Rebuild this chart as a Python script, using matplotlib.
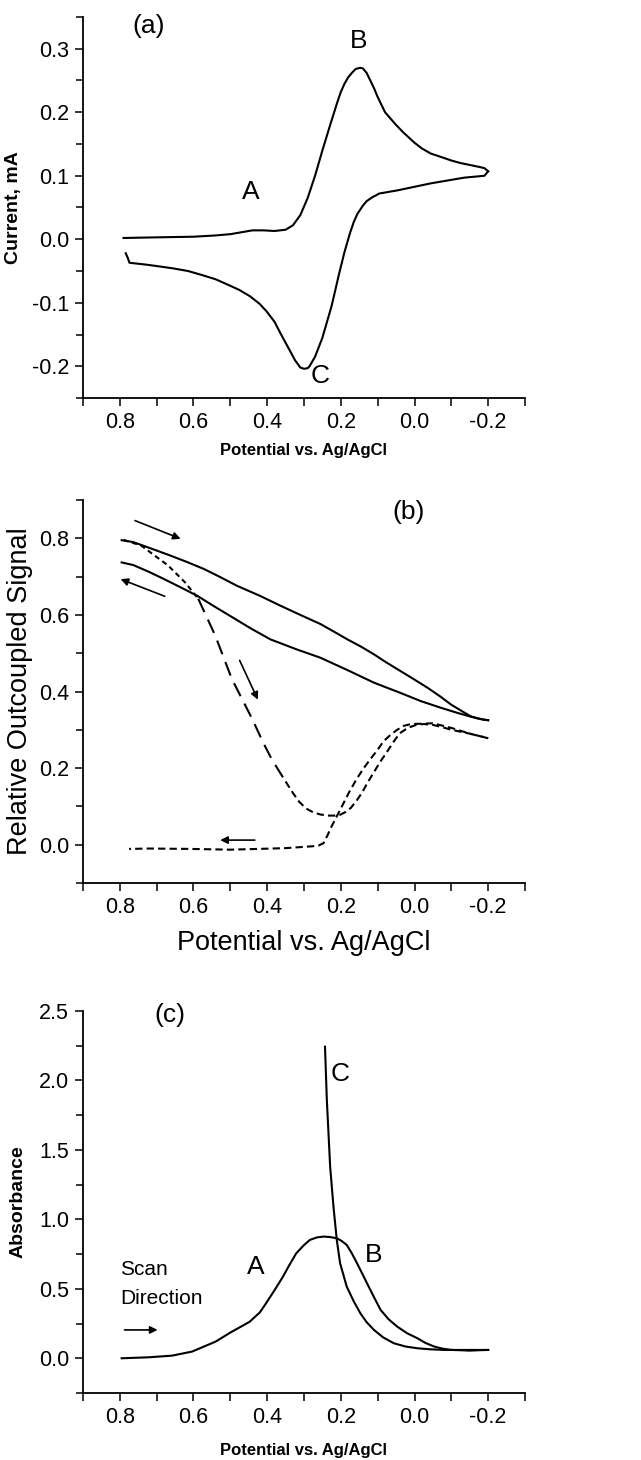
import matplotlib
matplotlib.use('Agg')
import matplotlib.pyplot as plt
from matplotlib.ticker import MultipleLocator

plt.rcParams['font.family'] = ['Liberation Sans Narrow', 'Liberation Sans', 'DejaVu Sans']
plt.rcParams['axes.unicode_minus'] = False

# (a) cyclic voltammogram
cv_fwd_x = [0.79, 0.70, 0.60, 0.54, 0.50, 0.47, 0.44, 0.41, 0.38, 0.35, 0.33, 0.31, 0.29,
            0.27, 0.25, 0.23, 0.21, 0.20, 0.19, 0.18, 0.17, 0.16, 0.148, 0.14, 0.13, 0.12,
            0.11, 0.10, 0.09, 0.08, 0.065, 0.05, 0.03, 0.015, 0.0, -0.02, -0.044, -0.07,
            -0.10, -0.125, -0.15, -0.175, -0.19, -0.20]
cv_fwd_y = [0.002, 0.003, 0.004, 0.006, 0.008, 0.011, 0.014, 0.014, 0.013, 0.015, 0.022,
            0.038, 0.065, 0.10, 0.14, 0.178, 0.215, 0.232, 0.245, 0.255, 0.262, 0.268,
            0.270, 0.269, 0.262, 0.25, 0.238, 0.224, 0.212, 0.20, 0.19, 0.18, 0.168,
            0.16, 0.152, 0.143, 0.135, 0.13, 0.124, 0.12, 0.117, 0.114, 0.112, 0.107]
cv_rev_x = [-0.20, -0.19, -0.135, -0.044, 0.046, 0.096, 0.105, 0.115, 0.13, 0.14, 0.155,
            0.165, 0.175, 0.19, 0.205, 0.225, 0.25, 0.27, 0.285, 0.29, 0.30, 0.31, 0.315,
            0.325, 0.335, 0.35, 0.364, 0.38, 0.401, 0.42, 0.446, 0.475, 0.505, 0.54,
            0.579, 0.615, 0.654, 0.69, 0.728, 0.774, 0.778, 0.784]
cv_rev_y = [0.107, 0.100, 0.097, 0.088, 0.077, 0.072, 0.069, 0.066, 0.060, 0.053, 0.040,
            0.027, 0.010, -0.020, -0.055, -0.105, -0.155, -0.185, -0.200, -0.203,
            -0.204, -0.202, -0.198, -0.19, -0.179, -0.163, -0.148, -0.13, -0.114,
            -0.102, -0.090, -0.080, -0.072, -0.063, -0.056, -0.050, -0.046, -0.043,
            -0.040, -0.037, -0.030, -0.022]

# (b) outcoupled signal
sig_solid_fwd_x = [0.795, 0.763, 0.72, 0.663, 0.62, 0.572, 0.53, 0.482, 0.42, 0.364, 0.31,
                   0.255, 0.22, 0.182, 0.145, 0.11, 0.08, 0.046, 0.005, -0.035, -0.07,
                   -0.099, -0.13, -0.153, -0.17, -0.185, -0.20]
sig_solid_fwd_y = [0.795, 0.79, 0.775, 0.755, 0.739, 0.72, 0.70, 0.676, 0.65, 0.624, 0.60,
                   0.576, 0.557, 0.536, 0.517, 0.497, 0.478, 0.458, 0.434, 0.41, 0.387,
                   0.366, 0.348, 0.335, 0.33, 0.327, 0.325]
sig_solid_rev_x = [-0.20, -0.185, -0.15, -0.117, -0.07, -0.017, 0.04, 0.11, 0.18, 0.255,
                   0.32, 0.391, 0.445, 0.50, 0.545, 0.59, 0.635, 0.681, 0.72, 0.763, 0.795]
sig_solid_rev_y = [0.325, 0.327, 0.335, 0.344, 0.358, 0.375, 0.397, 0.423, 0.455, 0.488,
                   0.51, 0.536, 0.565, 0.597, 0.623, 0.65, 0.672, 0.694, 0.712, 0.73, 0.737]
sig_dash_fwd_x = [0.79, 0.742, 0.669, 0.623, 0.587, 0.541, 0.496, 0.441, 0.41, 0.387,
                  0.35, 0.33, 0.313, 0.295, 0.276, 0.256, 0.236, 0.219, 0.202, 0.188,
                  0.173, 0.158, 0.143, 0.125, 0.106, 0.092, 0.077, 0.058, 0.04, 0.018,
                  -0.005, -0.025, -0.049, -0.075, -0.10, -0.125, -0.15, -0.175, -0.20]
sig_dash_fwd_y = [0.796, 0.781, 0.729, 0.685, 0.642, 0.546, 0.433, 0.329, 0.265, 0.222,
                  0.165, 0.135, 0.112, 0.095, 0.085, 0.079, 0.076, 0.076, 0.078, 0.085,
                  0.096, 0.114, 0.135, 0.166, 0.196, 0.218, 0.239, 0.267, 0.291, 0.305,
                  0.313, 0.315, 0.313, 0.307, 0.30, 0.295, 0.29, 0.284, 0.278]
sig_dash_rev_x = [-0.20, -0.15, -0.10, -0.05, 0.01, 0.03, 0.047, 0.065, 0.084, 0.10, 0.121,
                  0.14, 0.158, 0.177, 0.195, 0.21, 0.225, 0.236, 0.247, 0.26, 0.276, 0.35,
                  0.50, 0.61, 0.72, 0.775]
sig_dash_rev_y = [0.278, 0.29, 0.305, 0.317, 0.315, 0.31, 0.30, 0.287, 0.27, 0.248, 0.222,
                  0.197, 0.17, 0.138, 0.104, 0.076, 0.048, 0.025, 0.004, -0.002, -0.004,
                  -0.009, -0.013, -0.011, -0.010, -0.011]

# (c) absorbance
abs_ab_x = [0.795, 0.722, 0.658, 0.604, 0.54, 0.50, 0.448, 0.42, 0.403, 0.38, 0.357, 0.34,
            0.321, 0.30, 0.284, 0.265, 0.247, 0.23, 0.211, 0.198, 0.184, 0.17, 0.156,
            0.142, 0.129, 0.11, 0.092, 0.07, 0.047, 0.02, -0.008, -0.03, -0.054, -0.075,
            -0.10, -0.125, -0.15, -0.175, -0.20]
abs_ab_y = [0.0, 0.007, 0.019, 0.048, 0.12, 0.185, 0.262, 0.33, 0.396, 0.49, 0.588, 0.67,
            0.756, 0.815, 0.852, 0.87, 0.876, 0.873, 0.864, 0.845, 0.816, 0.755, 0.684,
            0.61, 0.54, 0.44, 0.348, 0.28, 0.228, 0.18, 0.144, 0.11, 0.084, 0.07, 0.06,
            0.058, 0.055, 0.058, 0.06]
abs_c_x = [0.243, 0.238, 0.229, 0.22, 0.211, 0.202, 0.193, 0.184, 0.165, 0.147, 0.13,
           0.11, 0.085, 0.056, 0.025, -0.008, -0.04, -0.081, -0.15, -0.20]
abs_c_y = [2.243, 1.859, 1.379, 1.092, 0.852, 0.684, 0.60, 0.516, 0.41, 0.324, 0.26,
           0.204, 0.15, 0.108, 0.085, 0.072, 0.065, 0.06, 0.06, 0.06]

fig = plt.figure(figsize=(6.41, 14.60), dpi=100)
W, H = 641, 1460
lw = 1.5


def make_axes(top, bottom, ylim, ymajor, yminor):
    ax = fig.add_axes([83 / W, 1 - bottom / H, 442 / W, (bottom - top) / H])
    ax.set_xlim(0.9, -0.3)
    ax.set_ylim(*ylim)
    ax.spines['top'].set_visible(False)
    ax.spines['right'].set_visible(False)
    for s in ('left', 'bottom'):
        ax.spines[s].set_linewidth(1.3)
    ax.xaxis.set_major_locator(MultipleLocator(0.2))
    ax.xaxis.set_minor_locator(MultipleLocator(0.1))
    ax.yaxis.set_major_locator(MultipleLocator(ymajor))
    ax.yaxis.set_minor_locator(MultipleLocator(yminor))
    ax.xaxis.set_major_formatter(lambda v, p: '%.1f' % v if abs(v) > 1e-9 else '0.0')
    ax.yaxis.set_major_formatter(lambda v, p: '%.1f' % v if abs(v) > 1e-9 else '0.0')
    ax.tick_params(which='major', direction='out', length=6, width=1.1, labelsize=15.5, pad=4)
    ax.tick_params(which='minor', direction='out', length=5, width=1.1)
    ax.tick_params(axis='x', which='both', length=6)
    return ax


bold_x = dict(family=['Liberation Sans', 'DejaVu Sans'], fontweight='bold', fontsize=12)
bold_y = dict(family=['Liberation Sans', 'DejaVu Sans'], fontweight='bold', fontsize=14)
big = dict(family=['Liberation Sans', 'DejaVu Sans'], fontsize=19.5)
lab = dict(family=['Liberation Sans', 'DejaVu Sans'], fontsize=19)

# (a)
ax1 = make_axes(17, 398, (-0.25, 0.35), 0.1, 0.05)
ax1.plot(cv_fwd_x, cv_fwd_y, color='black', lw=lw)
ax1.plot(cv_rev_x, cv_rev_y, color='black', lw=lw)
ax1.set_ylabel('Current, mA', labelpad=7, **bold_y)
ax1.set_xlabel('Potential vs. Ag/AgCl', labelpad=7, **bold_x)
ax1.text(0.722, 0.336, '(a)', ha='center', va='center', **lab)
ax1.text(0.152, 0.312, 'B', ha='center', va='center', **lab)
ax1.text(0.445, 0.074, 'A', ha='center', va='center', **lab)
ax1.text(0.256, -0.216, 'C', ha='center', va='center', **lab)

# (b)
ax2 = make_axes(500, 883, (-0.1, 0.9), 0.2, 0.1)
ax2.plot(sig_solid_fwd_x, sig_solid_fwd_y, color='black', lw=lw)
ax2.plot(sig_solid_rev_x, sig_solid_rev_y, color='black', lw=lw)
ax2.plot(sig_dash_fwd_x[:5], sig_dash_fwd_y[:5], color='black', lw=lw, ls=(0, (2.5, 1.8)))
ax2.plot(sig_dash_fwd_x[4:11], sig_dash_fwd_y[4:11], color='black', lw=lw, ls=(0, (7, 4)))
ax2.plot(sig_dash_fwd_x[10:], sig_dash_fwd_y[10:], color='black', lw=lw, ls=(0, (3.5, 2)))
ax2.plot(sig_dash_rev_x, sig_dash_rev_y, color='black', lw=lw, ls=(0, (3.5, 2)))
ax2.set_ylabel('Relative Outcoupled Signal', labelpad=4, **big)
ax2.set_xlabel('Potential vs. Ag/AgCl', labelpad=9, **big)
ax2.text(0.016, 0.869, '(b)', ha='center', va='center', **lab)
arr = dict(arrowstyle='-|>', color='black', lw=1.2, mutation_scale=11)
ax2.annotate('', xy=(0.628, 0.796), xytext=(0.766, 0.849), arrowprops=arr)
ax2.annotate('', xy=(0.805, 0.696), xytext=(0.671, 0.646), arrowprops=arr)
ax2.annotate('', xy=(0.422, 0.372), xytext=(0.478, 0.488), arrowprops=arr)
ax2.annotate('', xy=(0.535, 0.012), xytext=(0.426, 0.012), arrowprops=arr)

# (c)
ax3 = make_axes(1011, 1393, (-0.25, 2.5), 0.5, 0.25)
ax3.plot(abs_ab_x, abs_ab_y, color='black', lw=lw)
ax3.plot(abs_c_x, abs_c_y, color='black', lw=lw)
ax3.set_ylabel('Absorbance', labelpad=9, **bold_y)
ax3.set_xlabel('Potential vs. Ag/AgCl', labelpad=11, **bold_x)
ax3.text(0.665, 2.47, '(c)', ha='center', va='center', **lab)
ax3.text(0.202, 2.05, 'C', ha='center', va='center', **lab)
ax3.text(0.11, 0.744, 'B', ha='center', va='center', **lab)
ax3.text(0.43, 0.66, 'A', ha='center', va='center', **lab)
ax3.text(0.8, 0.636, 'Scan', ha='left', va='center', fontsize=15)
ax3.text(0.8, 0.432, 'Direction', ha='left', va='center', fontsize=15)
ax3.annotate('', xy=(0.69, 0.204), xytext=(0.795, 0.204), arrowprops=arr)

fig.savefig('out.png', dpi=100)
